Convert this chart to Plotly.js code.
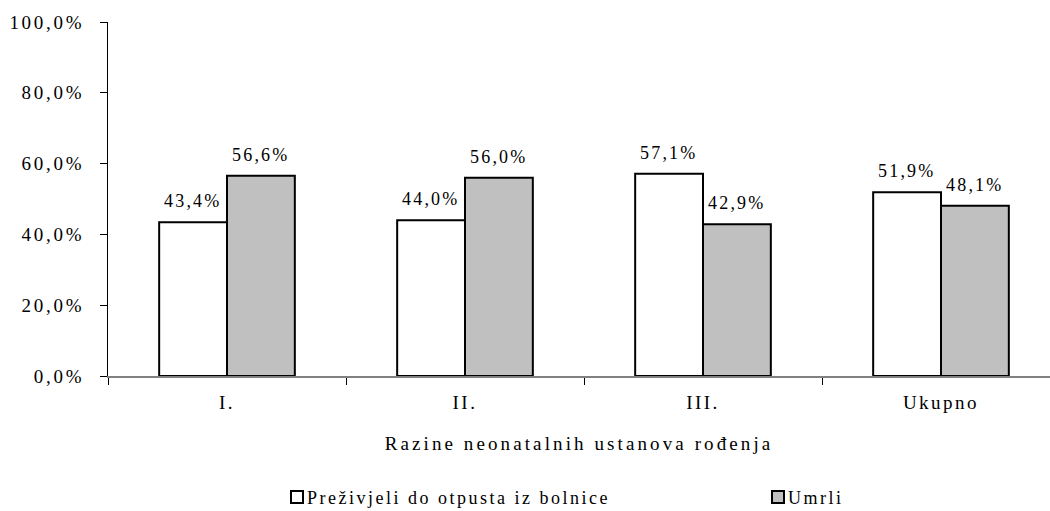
<!DOCTYPE html>
<html>
<head>
<meta charset="utf-8">
<script src="https://cdn.plot.ly/plotly-3.0.1.min.js"></script>
<style>
html, body { margin: 0; padding: 0; background: #fff; }
#chart { width: 1050px; height: 511px; }
.ytick text { letter-spacing: 2.7px; }
.xtick text { letter-spacing: 2.5px; }
.xtitle { letter-spacing: 3.1px; }
.legendtext, [class*="legend"] text { letter-spacing: 2.5px !important; transform: translateX(-10px) !important; }
.annotation-text { letter-spacing: 2.2px; }
</style>
</head>
<body>
<div id="chart"></div>
<script>
const categories = ["I.", "II.", "III.", "Ukupno"];
const survived = [43.4, 44.0, 57.1, 51.9];
const died = [56.6, 56.0, 42.9, 48.1];
const seriesNames = ["Preživjeli do otpusta iz bolnice", "Umrli"];
const yTickVals = [0, 20, 40, 60, 80, 100];
const yTickText = ["0,0%", "20,0%", "40,0%", "60,0%", "80,0%", "100,0%"];
const xTitle = "Razine neonatalnih ustanova rođenja";

const FONT = "Liberation Serif, Times New Roman, serif";

const traces = [
  {
    type: "bar", name: seriesNames[0], x: categories, y: survived, legend: "legend",
    marker: { color: "#ffffff", line: { color: "#000000", width: 2 } },
    hoverinfo: "skip"
  },
  {
    type: "bar", name: seriesNames[1], x: categories, y: died, legend: "legend2",
    marker: { color: "#c0c0c0", line: { color: "#000000", width: 2 } },
    hoverinfo: "skip"
  }
];

function fmt(v) { return v.toFixed(1).replace(".", ",") + "%"; }
const annotations = [];
categories.forEach((c, i) => {
  annotations.push({ x: c, y: survived[i], xref: "x", yref: "y", text: fmt(survived[i]),
    showarrow: false, xshift: -34, yshift: 9, yanchor: "bottom",
    font: { family: FONT, size: 18, color: "#000" } });
  annotations.push({ x: c, y: died[i], xref: "x", yref: "y", text: fmt(died[i]),
    showarrow: false, xshift: 34, yshift: 9, yanchor: "bottom",
    font: { family: FONT, size: 18, color: "#000" } });
});

const legendCommon = {
  orientation: "h", xref: "container", yref: "container",
  xanchor: "left", y: 0.027, yanchor: "middle",
  font: { family: FONT, size: 18, color: "#000" }
};

const layout = {
  width: 1050, height: 511,
  margin: { l: 108, r: 0, t: 22, b: 135 },
  paper_bgcolor: "#fff", plot_bgcolor: "#fff",
  font: { family: FONT, color: "#000", size: 19 },
  separators: ",.",
  barmode: "group",
  bargap: 0.43, bargroupgap: 0,
  showlegend: true,
  legend: Object.assign({}, legendCommon, { x: 0.2638 }),
  legend2: Object.assign({}, legendCommon, { x: 0.7219 }),
  xaxis: {
    type: "category", range: [-0.5, 3.458],
    showline: true, linecolor: "#808080", linewidth: 2,
    ticks: "outside", tickson: "boundaries", ticklen: 7, tickcolor: "#000", tickwidth: 1,
    showgrid: false, zeroline: false,
    tickfont: { family: FONT, size: 19, color: "#000" },
    ticklabelstandoff: 8,
    title: { text: xTitle, font: { family: FONT, size: 19, color: "#000" }, standoff: 25 },
    fixedrange: true
  },
  yaxis: {
    range: [0, 100],
    tickvals: yTickVals, ticktext: yTickText,
    showline: true, linecolor: "#000", linewidth: 1,
    ticks: "outside", ticklen: 7, tickcolor: "#000", tickwidth: 1,
    showgrid: false, zeroline: false,
    tickfont: { family: FONT, size: 19, color: "#000" },
    ticklabelstandoff: 12,
    fixedrange: true
  },
  annotations: annotations
};

Plotly.newPlot("chart", traces, layout, { displayModeBar: false, staticPlot: true });
</script>
</body>
</html>
